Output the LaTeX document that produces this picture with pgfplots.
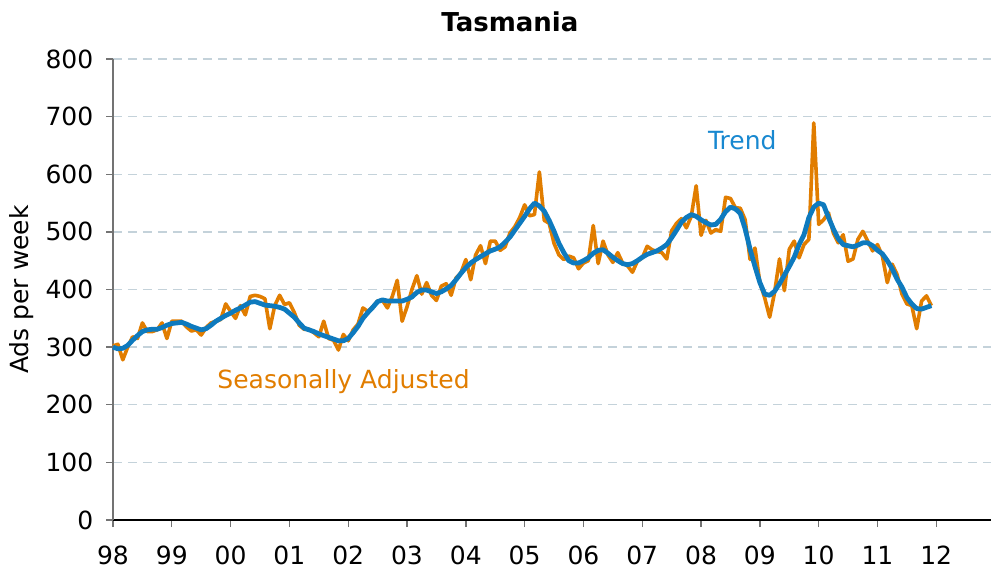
\documentclass[border=0pt]{standalone}
\usepackage{fontspec}
\setmainfont{DejaVu Sans}
\usepackage{pgfplots}
\usepackage{pgfplotstable}
\pgfplotsset{compat=1.18}

\definecolor{saorange}{RGB}{225,125,0}
\definecolor{trendblue}{RGB}{14,122,190}
\definecolor{trendtext}{RGB}{24,136,208}
\definecolor{gridc}{RGB}{196,210,218}

% month index from Jan 1998, seasonally adjusted, trend
\pgfplotstableread{
i sa trend
0 302 300
1 305 297
2 278 298
3 300 303
4 318 312
5 315 320
6 342 327
7 327 330
8 327 331
9 330 331
10 342 334
11 315 338
12 345 341
13 345 342
14 345 343
15 335 340
16 328 336
17 330 333
18 321 330
19 334 332
20 342 338
21 345 345
22 348 350
23 375 355
24 362 359
25 350 364
26 372 368
27 356 373
28 388 378
29 390 379
30 388 376
31 384 373
32 332 372
33 372 371
34 390 369
35 374 366
36 377 359
37 360 352
38 338 342
39 331 333
40 331 330
41 325 327
42 318 323
43 345 320
44 315 317
45 312 314
46 295 311
47 322 311
48 311 315
49 330 325
50 340 336
51 368 350
52 362 360
53 370 369
54 380 379
55 381 382
56 368 380
57 388 380
58 416 380
59 345 380
60 370 383
61 400 387
62 424 395
63 392 399
64 412 399
65 390 396
66 381 393
67 406 396
68 410 401
69 390 407
70 420 417
71 429 428
72 452 438
73 417 446
74 460 452
75 476 457
76 445 462
77 484 467
78 484 470
79 468 474
80 474 482
81 498 491
82 509 503
83 525 515
84 547 527
85 528 540
86 530 550
87 604 545
88 520 536
89 515 520
90 480 501
91 460 480
92 452 464
93 458 450
94 455 446
95 436 446
96 446 450
97 450 455
98 511 463
99 445 468
100 484 469
101 460 463
102 447 456
103 464 450
104 446 445
105 441 443
106 430 445
107 449 450
108 455 456
109 475 461
110 469 464
111 466 467
112 464 472
113 453 478
114 502 490
115 515 503
116 523 517
117 507 525
118 527 530
119 580 527
120 494 521
121 520 516
122 498 512
123 504 513
124 501 522
125 560 535
126 558 543
127 542 540
128 541 532
129 521 505
130 452 470
131 472 440
132 412 412
133 385 392
134 352 390
135 395 397
136 453 410
137 398 425
138 470 440
139 484 456
140 455 478
141 478 495
142 487 525
143 689 543
144 513 550
145 521 547
146 533 525
147 498 505
148 481 488
149 495 478
150 449 476
151 453 474
152 487 477
153 501 481
154 484 481
155 467 476
156 478 468
157 458 462
158 412 450
159 444 436
160 426 418
161 392 404
162 375 386
163 372 375
164 332 367
165 380 366
166 389 369
167 372 372
}\datatable

\begin{document}
\fontsize{12.5}{15}\selectfont
\begin{tikzpicture}
\begin{axis}[
    at={(0,0)}, anchor=south west,
    scale only axis,
    width=439pt, height=230.5pt,
    xmin=1998, xmax=2012.93,
    ymin=0, ymax=800,
    axis x line*=bottom, axis y line*=left,
    x axis line style={-, black, line width=0.9pt},
    y axis line style={-, black!55, line width=0.7pt},
    tick align=outside,
    major tick length=3.5pt,
    tick style={black!55, line width=0.7pt},
    xtick={1998,1999,...,2012},
    xticklabels={98,99,00,01,02,03,04,05,06,07,08,09,10,11,12},
    ytick={0,100,...,800},
    ymajorgrids=true,
    grid style={gridc, line width=0.7pt, dash pattern=on 4.5pt off 3pt},
    tick label style={font=\fontsize{12.5}{15}\selectfont},
    /pgf/number format/assume math mode=true,
    yticklabel style={xshift=-2pt},
    xticklabel style={yshift=-5pt, text height=9.2pt, text depth=0.3pt},
    title={Tasmania},
    title style={font=\fontsize{13}{15}\selectfont\bfseries,
        at={(axis description cs:0.452,1)}, yshift=12.5pt, anchor=center},
    ylabel={Ads per week},
    every axis y label/.style={at={(axis description cs:-0.1036,0.5)},
        rotate=90, anchor=center, font=\fontsize{12.5}{15}\selectfont},
    clip=false,
]
\addplot[saorange, line width=1.8pt, line join=round]
    table[x expr=1998+\thisrow{i}/12, y=sa] {\datatable};
\addplot[trendblue, line width=2.4pt, line join=round]
    table[x expr=1998+\thisrow{i}/12, y=trend] {\datatable};
\node[saorange, font=\fontsize{12.5}{15}\selectfont] at (axis cs:2001.92,241) {Seasonally Adjusted};
\node[trendtext, font=\fontsize{12.5}{15}\selectfont] at (axis cs:2008.70,659) {Trend};
\end{axis}
\pgfresetboundingbox
\path (-56.5pt,-27.5pt) rectangle (439pt,260pt);
\end{tikzpicture}
\end{document}
